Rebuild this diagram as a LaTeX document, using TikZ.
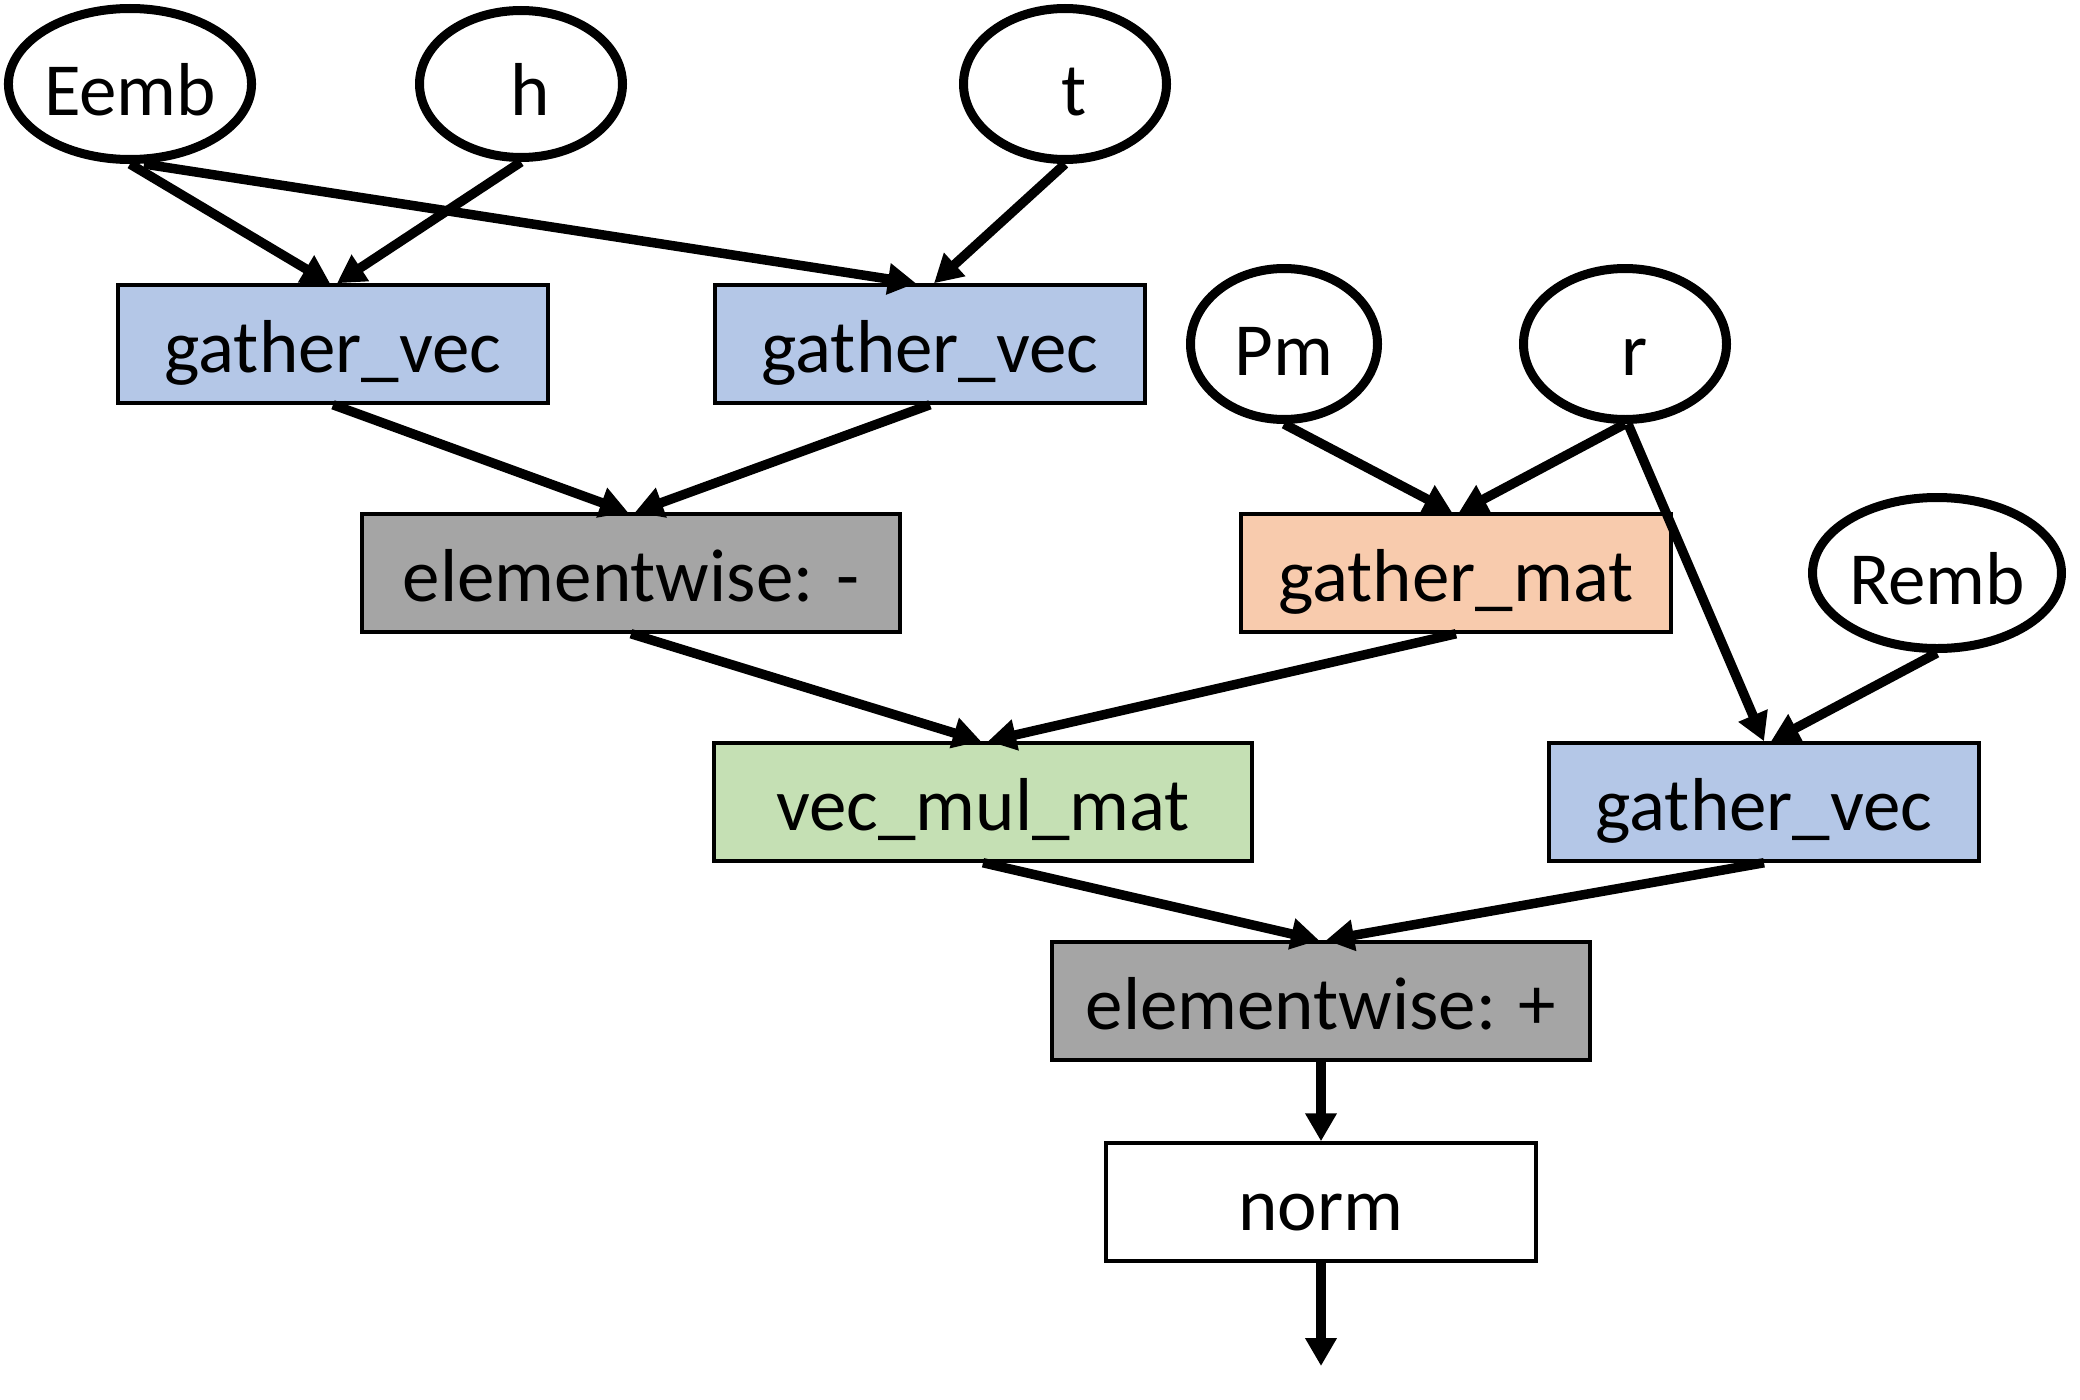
\documentclass[tikz,border=0pt]{standalone}
\usepackage{fontspec}
\setmainfont{Carlito}
\usetikzlibrary{shapes.geometric,arrows.meta}
\definecolor{vecblue}{HTML}{B4C7E7}
\definecolor{opgray}{HTML}{A5A5A5}
\definecolor{matorange}{HTML}{F8CBAD}
\definecolor{mulgreen}{HTML}{C5E0B4}
\begin{document}
\begin{tikzpicture}[x=1pt,y=-1pt,
  txt/.style={font=\fontsize{75}{90}\selectfont},
  io/.style={ellipse, draw, line width=9pt, minimum width=203pt, minimum height=151pt, inner sep=0pt, txt, text height=66pt, text depth=4pt},
  op/.style={rectangle, draw, line width=3.5pt, minimum width=430pt, minimum height=118pt, inner sep=0pt, txt, text height=64pt, text depth=8pt},
  wideop/.style={op, minimum width=538pt},
  flow/.style={line width=9.5pt, -{Triangle[length=28pt,width=30pt]}}]
\useasboundingbox (0,0) rectangle (2080,1400);
% inputs
\node[io, minimum width=209pt] (Eemb) at (130,84) {Eemb};
\node[io, minimum height=147pt] (h) at (521,84) {\hspace*{18pt}h};
\node[io] (t) at (1065,84) {\hspace*{18pt}t};
\node[io, minimum width=187pt] (Pm) at (1284,344) {Pm};
\node[io] (r) at (1625,344) {\hspace*{20pt}r};
\node[io] (Remb) at (1937,573) {Remb};
% operations
\node[op, fill=vecblue] (gv1) at (333,344) {gather\_vec};
\node[op, fill=vecblue] (gv2) at (930,344) {gather\_vec};
\node[wideop, fill=opgray] (ewm) at (631,573) {elementwise: -};
\node[op, fill=matorange] (gm) at (1456,573) {gather\_mat};
\node[wideop, fill=mulgreen] (vmm) at (983,802) {vec\_mul\_mat};
\node[op, fill=vecblue] (gv3) at (1764,802) {gather\_vec};
\node[wideop, fill=opgray] (ewp) at (1321,1001) {elementwise: +};
\node[op, fill=white] (norm) at (1321,1202) {norm};
\coordinate (out) at (1321,1366);
% connectors
\draw[flow] (Eemb.south) -- ([xshift=-3pt]gv1.north);
\draw[flow] (h.south) -- ([xshift=4pt]gv1.north);
\draw[flow] ([xshift=14pt]Eemb.south) -- ([xshift=-14pt]gv2.north);
\draw[flow] (t.south) -- ([xshift=4pt]gv2.north);
\draw[flow] (gv1.south) -- ([xshift=-3pt]ewm.north);
\draw[flow] (gv2.south) -- ([xshift=4pt]ewm.north);
\draw[flow] (Pm.south) -- ([xshift=-4pt]gm.north);
\draw[flow] (r.south) -- ([xshift=3pt]gm.north);
\draw[flow] ([xshift=3pt]r.south) -- ([xshift=0pt]gv3.north);
\draw[flow] (Remb.south) -- ([xshift=7pt]gv3.north);
\draw[flow] (ewm.south) -- ([xshift=-2pt]vmm.north);
\draw[flow] (gm.south) -- ([xshift=5pt]vmm.north);
\draw[flow] (vmm.south) -- ([xshift=-2pt]ewp.north);
\draw[flow] (gv3.south) -- ([xshift=5pt]ewp.north);
\draw[flow] (ewp.south) -- (norm.north);
\draw[flow] (norm.south) -- (out);
\end{tikzpicture}
\end{document}
